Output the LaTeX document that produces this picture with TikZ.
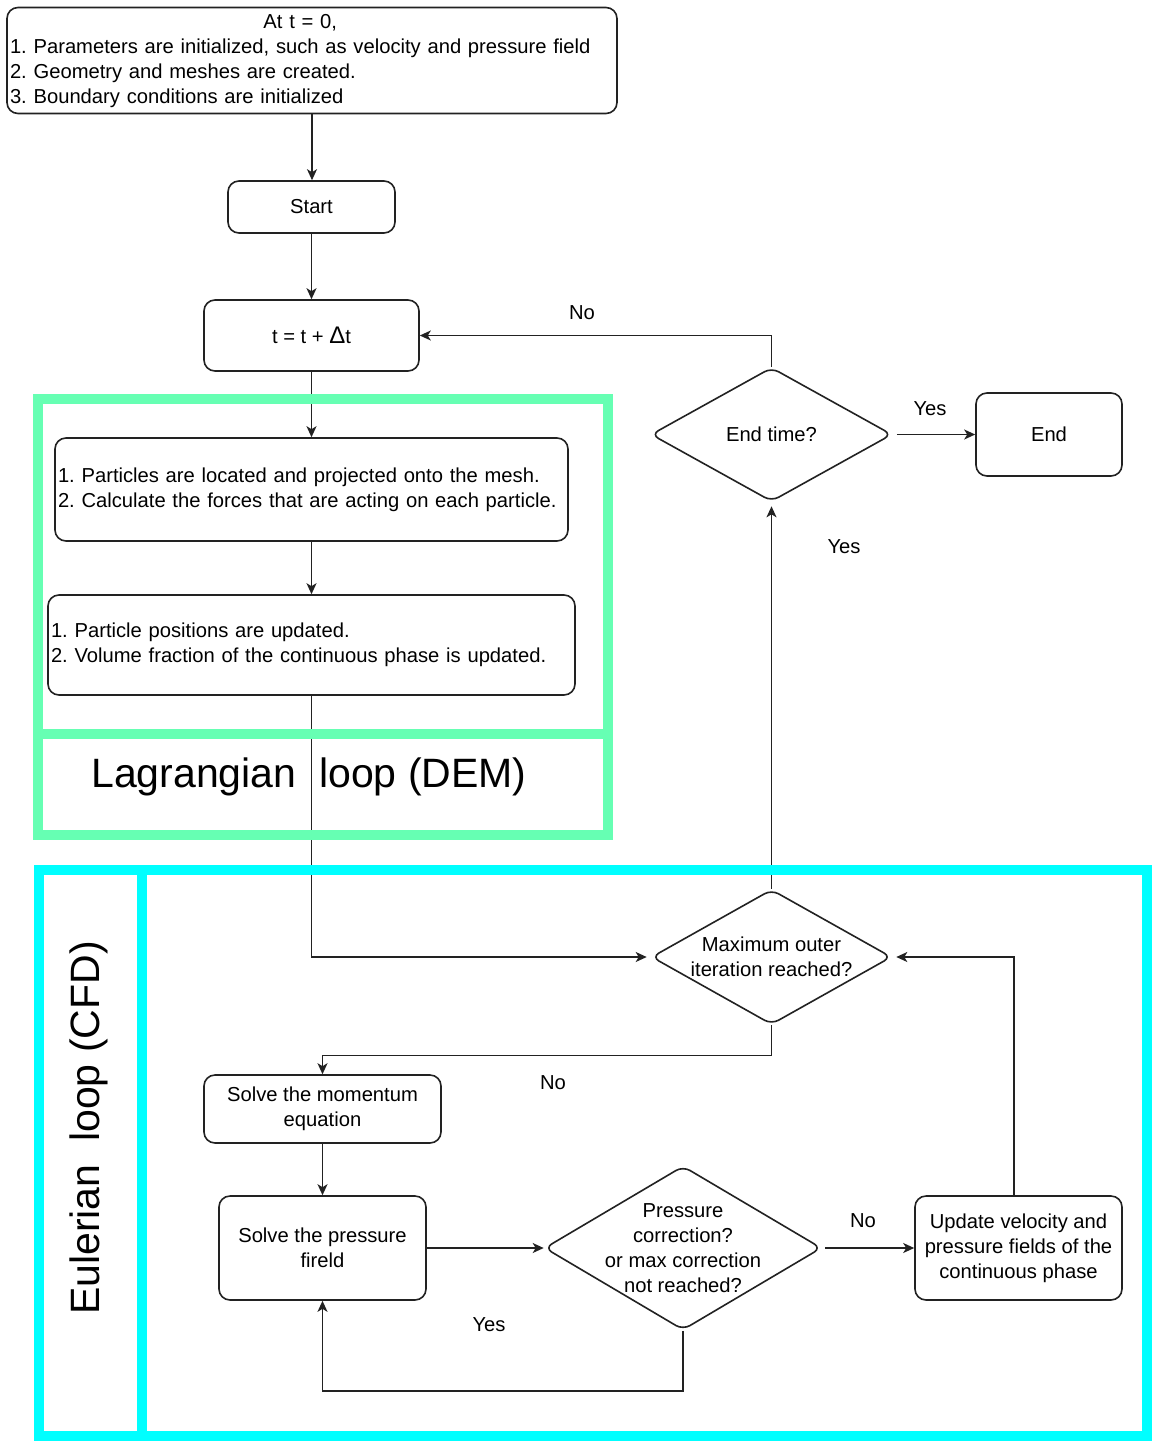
\documentclass[tikz,border=0pt]{standalone}
\usepackage{fontspec}
\setmainfont{Liberation Sans}
\usetikzlibrary{shapes.geometric,arrows.meta}
\newcommand\myfont{\fontsize{20.2}{25}\selectfont\frenchspacing\hyphenpenalty=10000\exhyphenpenalty=10000}
\newcommand\mybigfont{\fontsize{41}{49}\selectfont}
\definecolor{lagr}{HTML}{66FFB3}
\definecolor{eul}{HTML}{00FFFF}
\definecolor{ln}{HTML}{222222}
\tikzset{
  box/.style={draw=ln, rounded corners=11pt, line width=1.6pt, fill=white, font=\myfont, align=center, inner sep=3pt},
  lbox/.style={box, align=left},
  dia/.style={draw=ln, diamond, rounded corners=8pt, line width=1.6pt, fill=white, inner sep=0pt},
  conn/.style={draw=ln, line width=1.6pt, -{Stealth[length=11pt,width=10pt,inset=3pt]}},
  lbl/.style={font=\myfont, inner sep=1pt},
  gframe/.style={draw=lagr, line width=10pt},
  cframe/.style={draw=eul, line width=10pt}
}
\begin{document}
\begin{tikzpicture}[x=1pt,y=-1pt]
\fill[white] (0,0) rectangle (1152,1441);
\useasboundingbox (0,0) rectangle (1152,1441);
% nodes
\node[lbox, minimum width=610, minimum height=103, text width=604] (top) at (312,60.5)
  {\begin{tabular}{@{}l@{}}\multicolumn{1}{@{}c@{}}{At t = 0,}\\
   1. Parameters are initialized, such as velocity and pressure field\\
   2. Geometry and meshes are created.\\
   3. Boundary conditions are initialized\end{tabular}};
\node[box, minimum width=167, minimum height=52] (start) at (311.5,207) {Start};
\node[box, minimum width=215, minimum height=71] (tbox) at (311.5,335.5) {t = t + {\fontsize{24}{25}\selectfont Δ}t};
\node[lbox, minimum width=513, minimum height=103, text width=507] (b1) at (311.5,489.5)
  {1. Particles are located and projected onto the mesh.\\2. Calculate the forces that are acting on each particle.};
\node[lbox, minimum width=527, minimum height=100, text width=521] (b2) at (311.5,645)
  {1. Particle positions are updated.\\2. Volume fraction of the continuous phase is updated.};
\node[dia, minimum width=241, minimum height=134] (endtime) at (771.5,434.5) {};
\node[font=\myfont] at (endtime) {End time?};
\node[box, minimum width=146, minimum height=83] (endbox) at (1049,434.5) {End};
\node[dia, minimum width=240, minimum height=135] (maxd) at (771.5,957) {};
\node[font=\myfont, align=center] at (maxd) {Maximum outer\\iteration reached?};
\node[box, minimum width=237, minimum height=68] (mom) at (322.5,1109) {Solve the momentum\\equation};
\node[box, minimum width=207, minimum height=104] (pres) at (322.5,1248) {Solve the pressure\\fireld};
\node[dia, minimum width=277, minimum height=164] (pc) at (683,1248) {};
\node[font=\myfont, align=center] at (683,1248) {Pressure\\correction?\\or max correction\\not reached?};
\node[box, minimum width=207, minimum height=104] (upd) at (1018.5,1248) {Update velocity and\\pressure fields of the\\continuous phase};
\coordinate (updtop) at (1014,1196);
% connectors
\draw[conn] (top.south) -- (top.south |- start.north);
\draw[conn] (start) -- (tbox);
\draw[conn] (tbox) -- (b1);
\draw[conn] (b1) -- (b2);
\draw[conn, shorten >=4pt] (b2.south) |- (maxd.west);
\draw[conn] (endtime.north) |- (tbox.east);
\draw[conn, shorten <=4pt] (endtime.east) -- (endbox.west);
\draw[conn, shorten >=4pt] (maxd.north) -- (endtime.south);
\draw[conn] (maxd.south) -- ++(0,30) -| (mom.north);
\draw[conn] (mom) -- (pres);
\draw[conn] (pres.east) -- (pc.west);
\draw[conn, shorten <=3pt] (pc.east) -- (upd.west);
\draw[conn, shorten >=4pt] (updtop) |- (maxd.east);
\draw[conn] (pc.south) -- ++(0,60) -| (pres.south);
% labels
\node[lbl] at (582,313) {No};
\node[lbl] at (930,409) {Yes};
\node[lbl] at (844,547) {Yes};
\node[lbl] at (553,1083) {No};
\node[lbl] at (863,1221) {No};
\node[lbl] at (489,1325) {Yes};
% frames
\draw[gframe] (38,399) rectangle (608,835);
\draw[gframe] (38,734) -- (608,734);
\draw[cframe] (39,870) rectangle (1147,1436);
\draw[cframe] (142,870) -- (142,1436);
\node[font=\mybigfont] (lagl) at (309,777) {Lagrangian\ \ loop (DEM)};
\node[font=\mybigfont, rotate=90] (eull) at (89,1128) {Eulerian\ \ loop (CFD)};
\end{tikzpicture}
\end{document}
